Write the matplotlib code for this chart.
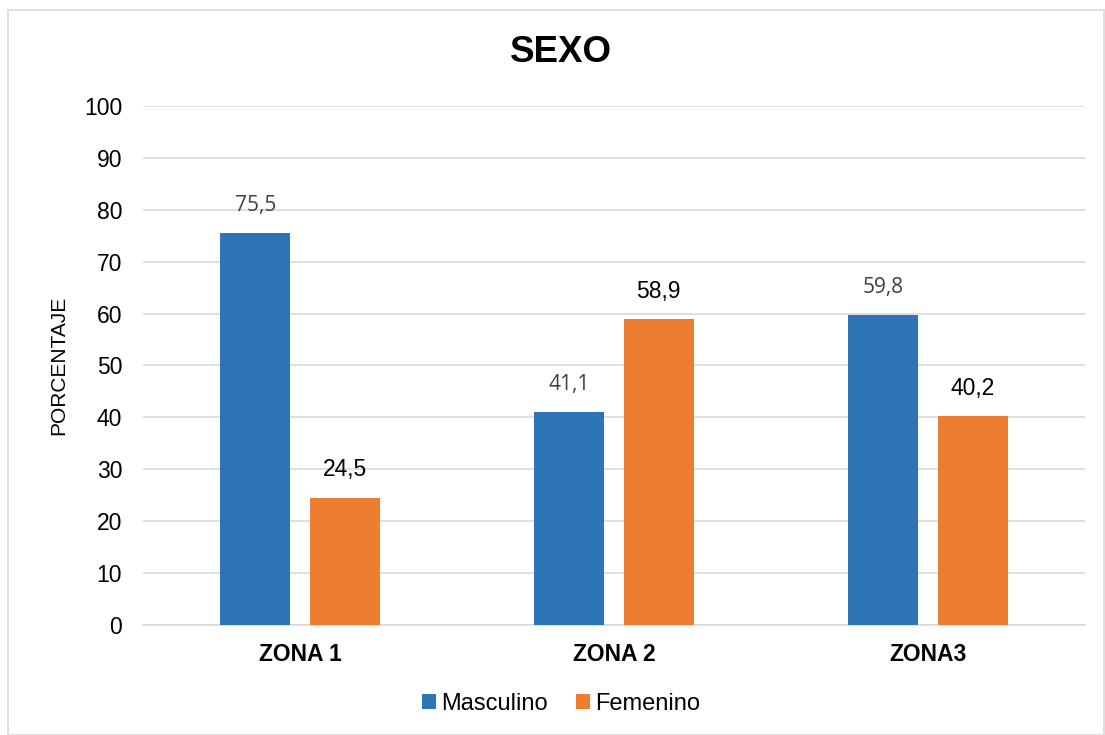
import matplotlib
matplotlib.use("Agg")
import matplotlib.pyplot as plt
import numpy as np
from matplotlib.patches import Rectangle

categories = ["ZONA 1", "ZONA 2", "ZONA3"]
masculino = [75.5, 41.1, 59.8]
femenino = [24.5, 58.9, 40.2]
masc_labels = ["75,5", "41,1", "59,8"]
fem_labels = ["24,5", "58,9", "40,2"]
yticks = list(range(0, 101, 10))

BLUE = "#2E75B6"
ORANGE = "#ED7D31"

plt.rcParams['font.family'] = ['Liberation Sans', 'DejaVu Sans']

fig = plt.figure(figsize=(11.05, 7.35), dpi=100)
fig.patches.append(Rectangle((8/1105, 0), 1 - 8/1105 - 0.0005, 1 - 10/735,
                             transform=fig.transFigure, fill=False,
                             edgecolor="#D9D9D9", linewidth=1.2))
ax = fig.add_axes([143/1105, 1 - 625/735, (1085 - 143)/1105, (625 - 106)/735])

x = np.arange(len(categories))
w = 0.223
off = 0.142
b1 = ax.bar(x - off, masculino, w, color=BLUE, label="Masculino", zorder=3)
b2 = ax.bar(x + off, femenino, w, color=ORANGE, label="Femenino", zorder=3)

for xi, v, t in zip(x, masculino, masc_labels):
    ax.annotate(t, (xi - off, v), xytext=(0, 12), textcoords="offset points",
                ha="center", va="bottom", fontsize=15, color="#404040",
                family=["Open Sans", "DejaVu Sans"])
for xi, v, t in zip(x, femenino, fem_labels):
    ax.annotate(t, (xi + off, v), xytext=(0, 12), textcoords="offset points",
                ha="center", va="bottom", fontsize=16.5, color="black")

ax.set_xlim(-0.5, len(categories) - 0.5)
ax.set_ylim(0, 100)
ax.set_yticks(yticks)
ax.set_yticklabels([str(t) for t in yticks], fontsize=16.5)
ax.set_xticks(x)
ax.set_xticklabels(categories, fontsize=16.5, fontweight="bold")
ax.tick_params(axis="both", length=0)
ax.tick_params(axis="y", pad=15)
ax.tick_params(axis="x", pad=13)
ax.yaxis.grid(True, color="#D9D9D9", linewidth=1.2, zorder=0)
for s in ["top", "right", "left"]:
    ax.spines[s].set_visible(False)
ax.spines["bottom"].set_color("#D9D9D9")
ax.spines["bottom"].set_linewidth(1.2)

ax.set_ylabel("PORCENTAJE", fontsize=15, labelpad=11)
fig.text(561/1105, 1 - 52/735, "SEXO", ha="center", va="center",
         fontsize=26.5, fontweight="bold")

fig.legend(handles=[b1, b2], loc="center", bbox_to_anchor=(561/1105, 1 - 704/735),
           ncol=2, frameon=False, fontsize=17, handlelength=0.6, handleheight=0.6,
           handletextpad=0.2, columnspacing=1.2)

fig.savefig("out.png", dpi=100)
